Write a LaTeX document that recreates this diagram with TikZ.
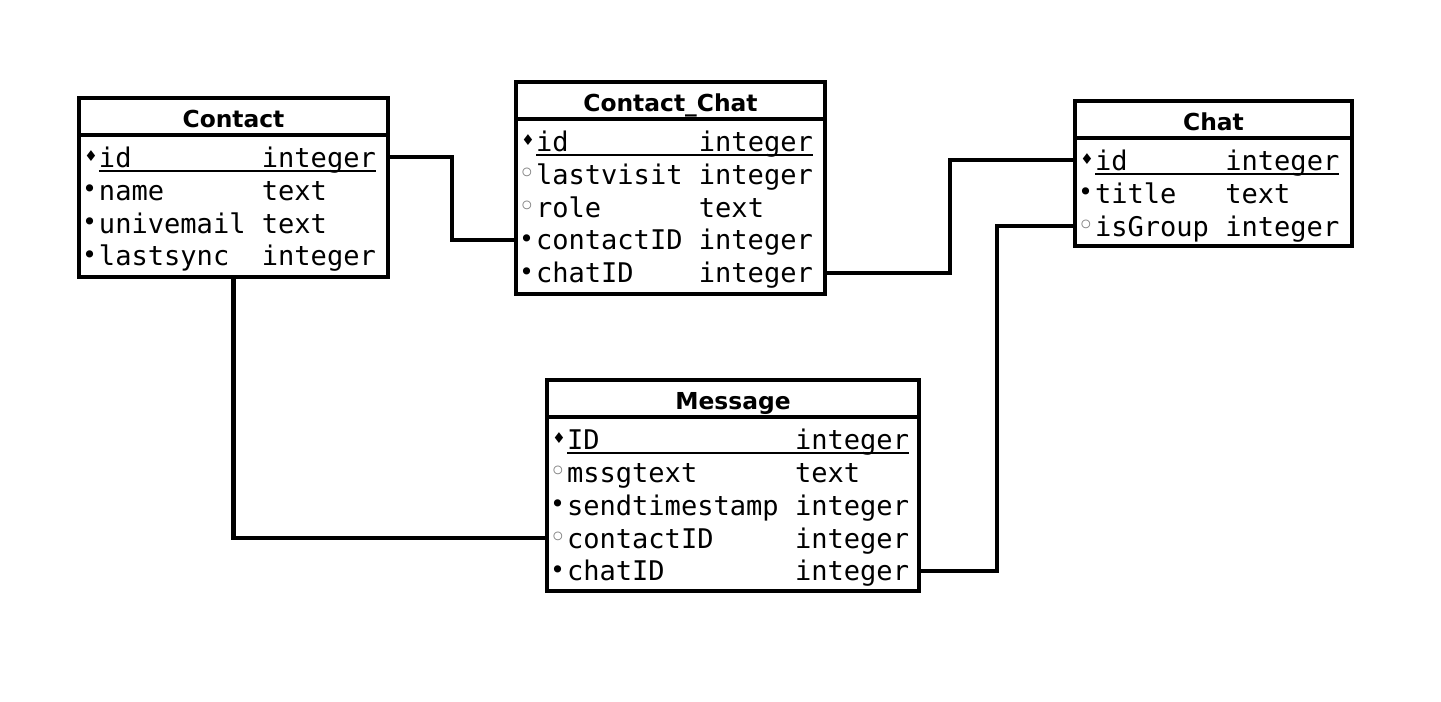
\documentclass[tikz,border=0pt]{standalone}
\usepackage{fontspec}
\setmainfont{DejaVu Sans}
\setmonofont{DejaVu Sans Mono}
\newfontfamily\markfont{DejaVu Sans}
\usetikzlibrary{positioning,calc}

\newcommand\keymk{\makebox[0.738em][l]{\hspace{0.2em}\raisebox{3.4pt}{\markfont\fontsize{8.5pt}{8pt}\selectfont ♦}}}
\newcommand\reqmk{\makebox[0.738em][l]{\hspace{0.12em}\raisebox{1.2pt}{\markfont\fontsize{14pt}{14pt}\selectfont •}}}
\newcommand\optmk{\makebox[0.738em][l]{\hspace{0.08em}\raisebox{0.2pt}{\markfont\fontsize{17pt}{17pt}\selectfont\color{gray}◦}}}
\newcommand\fld[2]{\makebox[\dimexpr0.602em*#1\relax][l]{#2}}
\newcommand\keyline[1]{\rlap{\rule[-0.19em]{\dimexpr0.602em*#1\relax}{1.4pt}}}

\tikzset{
  tabhead/.style={draw, line width=2.3pt, outer sep=0pt, minimum height=0.74cm,
    font=\fontsize{13.3pt}{15pt}\selectfont\bfseries, text height=12.5pt, text depth=0pt},
  tabbody/.style={draw, line width=2.3pt, outer sep=0pt},
  row/.style={text width=#1, align=left, inner sep=0pt, outer sep=0pt,
    font=\fontsize{15.4pt}{18pt}\selectfont\ttfamily, text height=14pt, text depth=2.6pt},
  link/.style={line width=2.3pt},
}

\begin{document}
\begin{tikzpicture}[x=0.02cm, y=-0.02cm, node distance=0.66cm]
  \useasboundingbox (0,0) rectangle (1441,701);

  % Contact
  \node[tabhead, minimum width=6.18cm] (contact) at (233.5,116.5) {Contact};
  \node[tabbody, minimum width=6.18cm, minimum height=2.84cm, below=0pt of contact] (contact-body) {};
  \node[row=6.18cm, below of=contact, yshift=-0.15cm] (contact-id) {\keymk\keyline{17}\fld{10}{id}integer};
  \node[row=6.18cm, below of=contact-id] (contact-name) {\reqmk\fld{10}{name}text};
  \node[row=6.18cm, below of=contact-name] (contact-mail) {\reqmk\fld{10}{univemail}text};
  \node[row=6.18cm, below of=contact-mail] (contact-sync) {\reqmk\fld{10}{lastsync}integer};

  % Contact_Chat
  \node[tabhead, minimum width=6.18cm] (cc) at (670.5,100.5) {Contact\_Chat};
  \node[tabbody, minimum width=6.18cm, minimum height=3.5cm, below=0pt of cc] (cc-body) {};
  \node[row=6.18cm, below of=cc, yshift=-0.15cm] (cc-id) {\keymk\keyline{17}\fld{10}{id}integer};
  \node[row=6.18cm, below of=cc-id] (cc-lastvisit) {\optmk\fld{10}{lastvisit}integer};
  \node[row=6.18cm, below of=cc-lastvisit] (cc-role) {\optmk\fld{10}{role}text};
  \node[row=6.18cm, below of=cc-role] (cc-contactid) {\reqmk\fld{10}{contactID}integer};
  \node[row=6.18cm, below of=cc-contactid] (cc-chatid) {\reqmk\fld{10}{chatID}integer};

  % Chat
  \node[tabhead, minimum width=5.54cm] (chat) at (1213.5,119.5) {Chat};
  \node[tabbody, minimum width=5.54cm, minimum height=2.16cm, below=0pt of chat] (chat-body) {};
  \node[row=5.54cm, below of=chat, yshift=-0.15cm] (chat-id) {\keymk\keyline{15}\fld{8}{id}integer};
  \node[row=5.54cm, below of=chat-id] (chat-title) {\reqmk\fld{8}{title}text};
  \node[row=5.54cm, below of=chat-title] (chat-isgroup) {\optmk\fld{8}{isGroup}integer};

  % Message
  \node[tabhead, minimum width=7.44cm] (msg) at (733,398.5) {Message};
  \node[tabbody, minimum width=7.44cm, minimum height=3.48cm, below=0pt of msg] (msg-body) {};
  \node[row=7.44cm, below of=msg, yshift=-0.15cm] (msg-id) {\keymk\keyline{21}\fld{14}{ID}integer};
  \node[row=7.44cm, below of=msg-id] (msg-text) {\optmk\fld{14}{mssgtext}text};
  \node[row=7.44cm, below of=msg-text] (msg-stamp) {\reqmk\fld{14}{sendtimestamp}integer};
  \node[row=7.44cm, below of=msg-stamp] (msg-contactid) {\optmk\fld{14}{contactID}integer};
  \node[row=7.44cm, below of=msg-contactid] (msg-chatid) {\reqmk\fld{14}{chatID}integer};

  \draw[link] (contact-id.east) -| ($(contact-id.east)!.5!(cc-contactid.west)$) |- (cc-contactid.west);
  \draw[link] (cc-chatid.east) -| ($(cc-chatid.east)!.5!(chat-id.west)$) |- (chat-id.west);
  \draw[link] (msg-chatid.east) -| ($(msg-chatid.east)!.5!(chat-isgroup.west)$) |- (chat-isgroup.west);
  \draw[link] (contact-body.south) |- (msg-contactid.west);
\end{tikzpicture}
\end{document}
